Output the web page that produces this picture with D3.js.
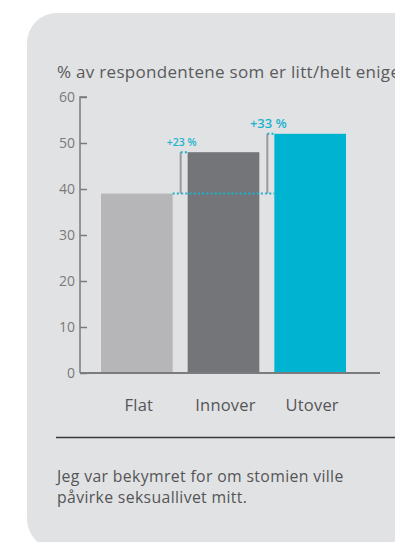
<!DOCTYPE html>
<html>
<head>
<meta charset="utf-8">
<script src="https://cdn.jsdelivr.net/npm/d3@7"></script>
<style>
  html, body { margin: 0; padding: 0; background: #ffffff; }
  svg { display: block; }
</style>
</head>
<body>
<svg id="chart" width="395" height="542"></svg>
<script>
// Share of respondents who agree, by stoma shape
const categories = ["Flat", "Innover", "Utover"];
const values = [39, 48, 52];
const barColors = ["#b6b6b8", "#747578", "#00b3d0"];
const yTicks = [0, 10, 20, 30, 40, 50, 60];
const titleText = "% av respondentene som er litt/helt enige";
const noteLines = ["Jeg var bekymret for om stomien ville", "påvirke seksuallivet mitt."];

const svg = d3.select("#chart");
const font = "'Open Sans', 'Noto Sans', sans-serif";
const accent = "#1ab3cf";

// background card
svg.append("rect")
  .attr("x", 27).attr("y", 13)
  .attr("width", 420).attr("height", 536)
  .attr("rx", 30).attr("ry", 30)
  .attr("fill", "#e1e2e4");

svg.append("text")
  .attr("x", 57).attr("y", 78)
  .attr("font-family", font).attr("font-size", 17)
  .attr("letter-spacing", 0.3)
  .attr("fill", "#5a5a5c")
  .text(titleText);

const y = d3.scaleLinear().domain([0, 60]).range([373, 97]);
const x = d3.scaleBand().domain(categories).range([86, 361])
  .paddingInner(0.173).paddingOuter(0.173);

// y axis
const yAxis = svg.append("g").attr("transform", "translate(80,0)")
  .call(d3.axisRight(y).tickValues(yTicks).tickSize(7).tickFormat(""));
yAxis.select(".domain").attr("stroke", "#7b7b7d").attr("stroke-width", 1.5)
  .attr("d", `M7,${y(60)}H0V${y(0)}`);
yAxis.selectAll(".tick line").attr("stroke", "#7b7b7d").attr("stroke-width", 1.5);

svg.append("g").selectAll("text").data(yTicks).join("text")
  .attr("x", 75).attr("y", d => y(d) + 5)
  .attr("text-anchor", "end")
  .attr("font-family", font).attr("font-size", 14)
  .attr("fill", "#7a7a7c")
  .text(d => d);

// bars
svg.append("g").selectAll("rect").data(categories).join("rect")
  .attr("x", d => x(d))
  .attr("y", (d, i) => y(values[i]))
  .attr("width", x.bandwidth())
  .attr("height", (d, i) => y(0) - y(values[i]))
  .attr("fill", (d, i) => barColors[i]);

// x baseline
svg.append("line")
  .attr("x1", 80).attr("x2", 380)
  .attr("y1", y(0)).attr("y2", y(0))
  .attr("stroke", "#7b7b7d").attr("stroke-width", 1.8);

// category labels
svg.append("g").selectAll("text").data(categories).join("text")
  .attr("x", d => x(d) + x.bandwidth() / 2 + 2)
  .attr("y", 411)
  .attr("text-anchor", "middle")
  .attr("font-family", font).attr("font-size", 16.5)
  .attr("letter-spacing", 0.2)
  .attr("fill", "#555557")
  .text(d => d);

// increase markers relative to the Flat bar
const base = values[0];
const dotted = { stroke: accent, "stroke-width": 2, "stroke-dasharray": "2,2.2" };
function applyAttrs(sel, attrs) { Object.entries(attrs).forEach(([k, v]) => sel.attr(k, v)); return sel; }

applyAttrs(svg.append("line")
  .attr("x1", x("Flat") + x.bandwidth()).attr("x2", x("Utover"))
  .attr("y1", y(base)).attr("y2", y(base)), dotted);

const marks = [
  { cat: "Innover", size: 10.5 },
  { cat: "Utover", size: 13 }
];
marks.forEach(m => {
  const i = categories.indexOf(m.cat);
  const v = values[i];
  const bx = x(m.cat);
  const lx = bx - 7;
  svg.append("line")
    .attr("x1", lx).attr("x2", lx)
    .attr("y1", y(v)).attr("y2", y(base))
    .attr("stroke", "#9a9a9c").attr("stroke-width", 2);
  applyAttrs(svg.append("line")
    .attr("x1", lx).attr("x2", bx)
    .attr("y1", y(v)).attr("y2", y(v)), dotted);
  const pct = Math.round((v / base - 1) * 100);
  svg.append("text")
    .attr("x", lx + 1).attr("y", y(v) - 6)
    .attr("text-anchor", "middle")
    .attr("font-family", font).attr("font-size", m.size).attr("font-weight", 600)
    .attr("fill", accent)
    .text(`+${pct} %`);
});

// divider and note
svg.append("line")
  .attr("x1", 56).attr("x2", 395)
  .attr("y1", 437.5).attr("y2", 437.5)
  .attr("stroke", "#3a3a3c").attr("stroke-width", 1.6);

svg.append("g").selectAll("text").data(noteLines).join("text")
  .attr("x", 57).attr("y", (d, i) => 482 + i * 21)
  .attr("font-family", font).attr("font-size", 15.8)
  .attr("letter-spacing", 0.35)
  .attr("fill", "#555557")
  .text(d => d);
</script>
</body>
</html>
